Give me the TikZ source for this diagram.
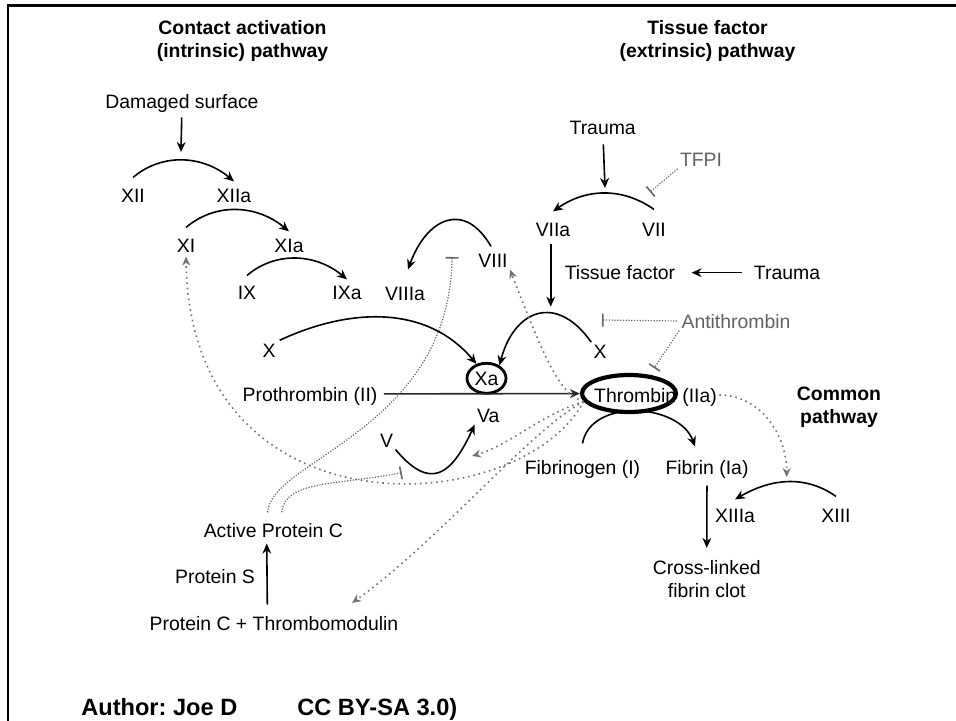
\documentclass[tikz,border=0pt]{standalone}
\usepackage{fontspec}
\setmainfont{Liberation Sans}
\usetikzlibrary{arrows.meta, shapes.geometric}
\usetikzlibrary{positioning}
\definecolor{dotgray}{gray}{0.45}
\definecolor{txtgray}{gray}{0.38}

\begin{document}
\begin{tikzpicture}[x=5pt, y=5pt,
		font=\fontsize{9.7}{11.7}\selectfont,
		fac/.style={inner sep=1pt, text height=.72em, text depth=0pt},
		ttl/.style={font=\fontsize{9.7}{11.7}\selectfont\bfseries, align=center, inner sep=0pt},
		arr/.style={-{Stealth[length=5pt,width=4.4pt]}, line width=0.8pt},
		act/.style={-{Stealth[length=4.5pt,width=4pt]}, dotgray, line width=0.8pt, dash pattern=on 0.8pt off 1.9pt},
		inh/.style={-{Bar[width=6.5pt,line width=0.8pt]}, black!60, line width=0.6pt, dash pattern=on 0.6pt off 0.8pt}]
	\useasboundingbox (0,0) rectangle (95.6,-72.1);
	\draw[line width=1.2pt] (95.6,-0.55) -- (0.77,-0.55) -- (0.77,-72.1);
	% 标题
	\node[ttl] (tin) at (24.25,-4.12) {Contact activation\\(intrinsic) pathway};
	\node[ttl] (tex) at (70.75,-4.07) {Tissue factor\\(extrinsic) pathway};
	\node[ttl] (tco) at (83.9,-40.7) {Common\\pathway};
	% 内源途径
	\node[fac] (dmg) at (18.2,-10.17) {Damaged surface};
	\node[fac] (xii) at (13.3,-19.5) {XII};
	\node[fac] (xiia) at (23.4,-19.5) {XIIa};
	\node[fac] (xi) at (18.6,-24.5) {XI};
	\node[fac] (xia) at (28.9,-24.5) {XIa};
	\node[fac] (ix) at (24.7,-29.2) {IX};
	\node[fac] (ixa) at (34.7,-29.2) {IXa};
	\node[fac] (viiia) at (40.5,-29.3) {VIIIa};
	\node[fac] (viii) at (49.3,-26.0) {VIII};
	\node[fac] (xl) at (26.9,-35.07) {X};
	\node[fac] (pro) at (31.0,-39.4) {Prothrombin (II)};
	\node[fac, ellipse, draw, line width=1.4pt, inner sep=0pt, minimum width=19.5pt, minimum height=15pt] (xa) at (48.65,-37.83) {Xa};
	\node[fac] (va) at (48.83,-41.5) {Va};
	\node[fac] (v) at (38.67,-44.0) {V};
	% 外源途径
	\node[fac] (tr1) at (60.27,-12.77) {Trauma};
	\node[fac, txtgray] (tfpi) at (70.1,-15.93) {TFPI};
	\node[fac] (viia) at (55.3,-22.9) {VIIa};
	\node[fac] (vii) at (65.4,-22.9) {VII};
	\node[fac] (tf) at (62.0,-27.27) {Tissue factor};
	\node[fac] (tr2) at (78.7,-27.27) {Trauma};
	\node[fac] (xr) at (60.0,-35.17) {X};
	\node[fac, txtgray] (atr) at (73.6,-32.1) {Antithrombin};
	% 共同途径
	\node[fac] (thr) at (63.52,-39.5) {Thrombin};
	\node[fac, right=0.7pt of thr] (iia) {(IIa)};
	\node[ellipse, draw, line width=2.1pt, minimum width=47pt, minimum height=18.5pt] (thrring) at (62.9,-39.35) {};
	\node[fac] (fbg) at (58.25,-46.7) {Fibrinogen (I)};
	\node[fac] (fbn) at (70.7,-46.7) {Fibrin (Ia)};
	\node[fac] (xiiia) at (73.5,-51.5) {XIIIa};
	\node[fac] (xiii) at (83.6,-51.5) {XIII};
	\node[align=center, inner sep=1pt] (clot) at (70.67,-57.91) {Cross-linked\\fibrin clot};
	% 蛋白C
	\node[fac] (apc) at (27.33,-53.0) {Active Protein C};
	\node[fac] (ps) at (21.5,-57.67) {Protein S};
	\node[fac] (pctm) at (27.4,-62.33) {Protein C + Thrombomodulin};
	\node[fac, font=\fontsize{11.8}{14}\selectfont\bfseries] (auth) at (15.93,-70.83) {Author:\ Joe D};
	\node[fac, font=\fontsize{11.8}{14}\selectfont\bfseries] (lic) at (37.73,-70.83) {CC BY-SA 3.0)};
	% 箭头端点
	\coordinate (c12) at (18.1,-15.2);
	\coordinate (c7) at (60.5,-18.8);
	\coordinate (c10) at (55.07,-30.67);
	\coordinate (cva) at (47.2,-45.6);
	\coordinate (ctm) at (35.2,-60.3);
	\coordinate (c13) at (78.67,-47.7);
	\coordinate (cviii) at (45.2,-25.7);
	\coordinate (cv) at (40.17,-47.27);
	\coordinate (cx) at (60.2,-32.0);
	\coordinate (c7i) at (65.0,-19.2);
	% 激活
	\draw[arr, shorten <=3pt] (dmg) -- (c12);
	\draw[arr] ([yshift=4pt]xii.north) to[out=40,in=140] ([yshift=2pt]xiia.north);
	\draw[arr] ([yshift=4pt]xi.north) to[out=40,in=140] ([yshift=2pt]xia.north);
	\draw[arr] ([yshift=3.5pt]ix.north) to[out=40,in=140] ([yshift=1.5pt]ixa.north);
	\draw[arr, shorten <=1pt] (xl.north east) to[out=25,in=130] (xa.125);
	\draw[arr] ([xshift=-1pt,yshift=2pt]viii.north) to[out=120,in=70,looseness=1.6] ([xshift=1.5pt,yshift=7pt]viiia.north);
	\draw[arr] (v.south east) to[out=-50,in=-115,looseness=1.7] (va.south west);
	\draw[arr, shorten <=3.5pt] (tr1) -- (c7);
	\draw[arr] ([yshift=5pt]vii.north) to[out=145,in=35] ([yshift=4pt]viia.north);
	\draw[arr, shorten <=2.5pt] (c10 |- viia.south) -- (c10);
	\draw[arr, shorten <=5pt, shorten >=7pt] (tr2) -- (tf);
	\draw[arr] (xr.north west) to[out=125,in=75,looseness=1.6] (xa.45);
	\draw[arr, black!85, shorten <=2pt] (pro) -- (thrring);
	\draw[arr] ([yshift=7pt]fbg.north) to[out=80,in=110,looseness=1.05] ([xshift=-6pt,yshift=5.5pt]fbn.north);
	\draw[arr, shorten <=4.5pt, shorten >=5pt] (fbn) -- (clot);
	\draw[arr] ([yshift=4.5pt]xiii.north) to[out=145,in=30] ([yshift=3pt]xiiia.north);
	\draw[arr, shorten <=4.5pt, shorten >=2pt] ([xshift=-3.3pt]pctm.north) -- ([xshift=-3.3pt]apc.south);
	% 凝血酶反馈
	\draw[act, shorten >=1pt] (thrring.190) .. controls (52,-52) and (19,-54) .. (xi.south);
	\draw[act] (thrring.190) .. controls (56,-39.5) and (54.5,-36) .. (viii.south east);
	\draw[act] (thrring.190) .. controls (54,-41.5) and (51,-44.5) .. (cva);
	\draw[act] (thrring.190) .. controls (53,-43) and (44,-54) .. (ctm);
	\draw[act] (iia.east) to[out=0,in=90] (c13);
	% 抑制
	\draw[inh, shorten <=4pt] ([xshift=-3pt]apc.north) .. controls (27,-46) and (45,-43) .. (cviii);
	\draw[inh, shorten <=4pt] ([xshift=4pt]apc.north) .. controls (28.4,-48) and (34,-48.5) .. (cv);
	\draw[inh, shorten <=1pt] (atr.west) -- (cx);
	\draw[inh, shorten >=4pt] (atr.south west) -- (thrring.42);
	\draw[inh] (tfpi.south west) -- (c7i);
\end{tikzpicture}
\end{document}
